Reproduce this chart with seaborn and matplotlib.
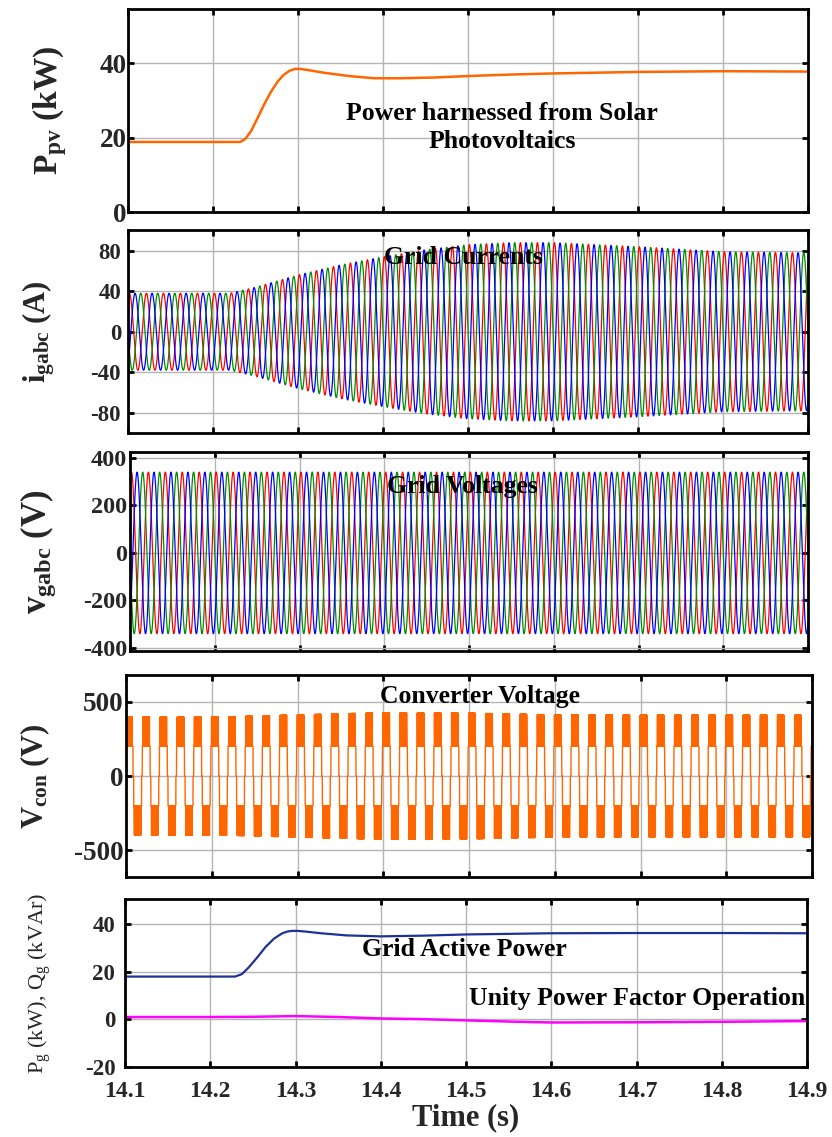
import numpy as np
import matplotlib
matplotlib.use("Agg")
import matplotlib.pyplot as plt
import seaborn as sns

# ---------------------------------------------------------------- data
t_start, t_end = 14.1, 14.9
time_ticks = [14.1, 14.2, 14.3, 14.4, 14.5, 14.6, 14.7, 14.8, 14.9]
f_grid = 50.0  # Hz

# PV array output power (kW)
ppv_t = [14.100, 14.232, 14.238, 14.245, 14.252, 14.260, 14.268, 14.276, 14.283,
         14.290, 14.296, 14.303, 14.312, 14.330, 14.360, 14.390, 14.420, 14.460,
         14.500, 14.550, 14.600, 14.700, 14.800, 14.900]
ppv_kw = [18.8, 18.8, 19.6, 21.8, 25.0, 28.8, 32.2, 35.0, 36.8,
          37.9, 38.4, 38.4, 38.1, 37.4, 36.5, 35.9, 35.9, 36.1,
          36.5, 36.9, 37.2, 37.6, 37.8, 37.7]

# grid current peak envelope (A)
ig_env_t = [14.10, 14.22, 14.25, 14.30, 14.35, 14.40, 14.45, 14.50, 14.55,
            14.60, 14.70, 14.80, 14.90]
ig_env_a = [38, 38, 44, 56, 66, 74, 81, 86, 88, 88, 84, 79, 78]

# grid voltage peak (V)
vg_peak = 340.0

# converter voltage: outer level envelope (V) and inner step level (V)
vcon_env_t = [14.10, 14.22, 14.30, 14.40, 14.50, 14.60, 14.70, 14.90]
vcon_peak = [396, 398, 410, 425, 422, 410, 408, 408]
vcon_step = 200.0
vcon_t0 = 14.1035          # centre of the first positive block
block_frac = 0.38          # share of a cycle spent switching on the outer level
shelf_frac = 0.46          # share of a cycle spent at or above the step level
f_carrier = 2500.0         # switching frequency (Hz)

# grid active / reactive power
pg_t = [14.100, 14.229, 14.237, 14.245, 14.255, 14.265, 14.275, 14.284, 14.290,
        14.296, 14.303, 14.312, 14.330, 14.360, 14.400, 14.450, 14.500, 14.600,
        14.700, 14.800, 14.900]
pg_kw = [18.0, 18.0, 19.0, 21.8, 26.0, 30.5, 34.0, 36.1, 36.9,
         37.2, 37.2, 36.9, 36.2, 35.3, 34.9, 35.2, 35.7, 36.2,
         36.3, 36.3, 36.2]
qg_t = [14.10, 14.20, 14.25, 14.30, 14.35, 14.40, 14.45, 14.50, 14.55, 14.60,
        14.70, 14.80, 14.90]
qg_kvar = [1.0, 1.0, 1.1, 1.4, 1.0, 0.4, 0.1, -0.4, -0.9, -1.3, -1.2, -1.0, -0.7]

# ---------------------------------------------------------------- style
sns.set_theme(context="notebook", style="ticks")
plt.rcParams.update({
    "font.family": ["Liberation Serif", "DejaVu Serif"],
    "font.weight": "bold",
    "mathtext.fontset": "custom",
    "mathtext.rm": "Liberation Serif:bold",
    "mathtext.bf": "Liberation Serif:bold",
    "mathtext.it": "Liberation Serif:bold",
    "axes.unicode_minus": False,
    "axes.linewidth": 2.0,
    "axes.edgecolor": "black",
})

ORANGE = "#ff6600"
PHASE_COLORS = ["#ff0000", "#008c00", "#0000ff"]
NAVY = "#1e3296"
MAGENTA = "#ff00ff"
GRID = "#b4b4b4"

W, H = 832, 1137
fig = plt.figure(figsize=(W / 100, H / 100), dpi=100)


def add_panel(left, top, right, bottom):
    return fig.add_axes([left / W, 1 - bottom / H, (right - left) / W, (bottom - top) / H])


def frame(ax, ylim, yticks, ysize, ypad, show_x=False):
    ax.set_xlim(t_start, t_end)
    ax.set_ylim(*ylim)
    ax.set_xticks(time_ticks)
    ax.set_yticks(yticks)
    ax.set_yticklabels([str(v) for v in yticks])
    ax.grid(True, color=GRID, linewidth=1.0)
    ax.set_axisbelow(True)
    ax.tick_params(axis="both", direction="in", top=True, right=True,
                   length=4, width=2, color="black")
    ax.tick_params(axis="y", labelsize=ysize, pad=ypad)
    ax.tick_params(axis="x", labelsize=17, pad=10, labelbottom=show_x)
    for lab in ax.get_yticklabels() + ax.get_xticklabels():
        lab.set_fontweight("bold")
    for s in ax.spines.values():
        s.set_visible(True)
        s.set_linewidth(2.0)
    ax.set_xlabel("")


def ylab(ax, text, px, size, weight="bold"):
    ax.set_ylabel(text, fontsize=size, fontweight=weight, va="center", ha="center")
    bb = ax.get_position()
    left_px = bb.x0 * W
    ax.yaxis.set_label_coords((px - left_px) / (bb.width * W), 0.5)


def note(ax, text, px, py, size=18.5, **kw):
    bb = ax.get_position()
    xf = (px - bb.x0 * W) / (bb.width * W)
    yf = ((1 - bb.y0) * H - py) / (bb.height * H)
    ax.text(xf, yf, text, transform=ax.transAxes, ha="center", va="center",
            fontsize=size, fontweight="bold", color="black", zorder=10, **kw)


# ---------------------------------------------------------------- waveforms
t_ac = np.arange(t_start, t_end + 1e-9, 1e-4)
theta_ac = 2 * np.pi * f_grid * (t_ac - t_start) - np.pi / 6
shifts = [0.0, 2 * np.pi / 3, -2 * np.pi / 3]
ig_amp = np.interp(t_ac, ig_env_t, ig_env_a)

t_sw = np.arange(t_start, t_end, 1 / 200_000)
ref = np.cos(2 * np.pi * f_grid * (t_sw - vcon_t0))
outer = np.interp(t_sw, vcon_env_t, vcon_peak)
carrier = ((t_sw - t_start) * f_carrier) % 1.0
upper = np.where(carrier < 0.5, outer, vcon_step)
mag = np.select([np.abs(ref) >= np.cos(np.pi * block_frac),
                 np.abs(ref) >= np.cos(np.pi * shelf_frac)],
                [upper, vcon_step], 0.0)
vcon = np.sign(ref) * mag

# ---------------------------------------------------------------- panel 1: PV power
ax1 = add_panel(128, 9, 808, 212)
sns.lineplot(x=ppv_t, y=ppv_kw, ax=ax1, color=ORANGE, linewidth=1.8, estimator=None, sort=False)
frame(ax1, (0, 54.5), [0, 20, 40], 19.5, 1)
ylab(ax1, r"P$_{\mathregular{pv}}$ (kW)", 50, 24)
note(ax1, "Power harnessed from Solar\nPhotovoltaics", 502, 127.5, linespacing=1.25)

# ---------------------------------------------------------------- panel 2: grid currents
ax2 = add_panel(128, 230, 808, 433)
for sh, col in zip(shifts, PHASE_COLORS):
    sns.lineplot(x=t_ac, y=ig_amp * np.cos(theta_ac + sh), ax=ax2, color=col,
                 linewidth=0.9, estimator=None, sort=False)
frame(ax2, (-100, 100.5), [-80, -40, 0, 40, 80], 16.5, 5)
ylab(ax2, r"i$_{\mathregular{gabc}}$ (A)", 39, 22)
note(ax2, "Grid Currents", 463, 258)

# ---------------------------------------------------------------- panel 3: grid voltages
ax3 = add_panel(130, 452, 808, 651)
for sh, col in zip(shifts, PHASE_COLORS):
    sns.lineplot(x=t_ac, y=vg_peak * np.cos(theta_ac + sh), ax=ax3, color=col,
                 linewidth=0.9, estimator=None, sort=False)
frame(ax3, (-413, 425), [-400, -200, 0, 200, 400], 17.5, 2)
ylab(ax3, r"v$_{\mathregular{gabc}}$ (V)", 38, 25)
note(ax3, "Grid Voltages", 462, 487)

# ---------------------------------------------------------------- panel 4: converter voltage
ax4 = add_panel(126, 675, 812, 877)
sns.lineplot(x=t_sw, y=vcon, ax=ax4, color=ORANGE, linewidth=1.0, estimator=None, sort=False)
frame(ax4, (-678, 678), [-500, 0, 500], 19.5, 2)
ylab(ax4, r"V$_{\mathregular{con}}$ (V)", 35, 22)
note(ax4, "Converter Voltage", 480, 697)

# ---------------------------------------------------------------- panel 5: grid powers
ax5 = add_panel(125, 899, 807, 1067)
sns.lineplot(x=pg_t, y=pg_kw, ax=ax5, color=NAVY, linewidth=1.6, estimator=None, sort=False)
sns.lineplot(x=qg_t, y=qg_kvar, ax=ax5, color=MAGENTA, linewidth=1.8, estimator=None, sort=False)
frame(ax5, (-20, 50.6), [-20, 0, 20, 40], 16.5, 7, show_x=True)
ylab(ax5, r"P$_{\mathregular{g}}$ (kW), Q$_{\mathregular{g}}$ (kVAr)", 40, 16, weight="normal")
ax5.set_xlabel("Time (s)", fontsize=22, fontweight="bold", labelpad=1)
note(ax5, "Grid Active Power", 464, 950)
note(ax5, "Unity Power Factor Operation", 637, 998)

fig.savefig("out.png", dpi=100)
